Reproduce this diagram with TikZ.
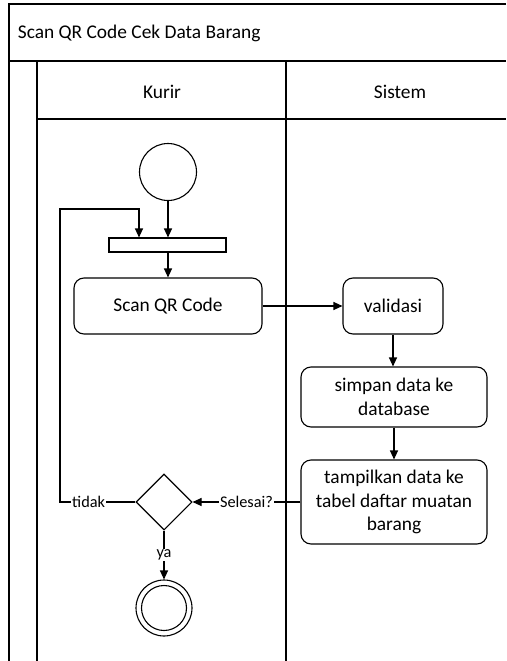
\documentclass[tikz,border=0pt]{standalone}
\usepackage{fontspec}
\setmainfont{Carlito}
\usetikzlibrary{arrows.meta,shapes.geometric}

\begin{document}
\begin{tikzpicture}[x=1pt,y=-1pt,line width=1.1pt,>={Triangle[length=9pt,width=8pt]}]
          \tikzstyle{act}=[draw,rounded corners=10pt,align=center,inner sep=2pt,font=\fontsize{19.4}{23.5}\selectfont]
          \tikzstyle{txt}=[font=\fontsize{19.4}{23.5}\selectfont]
          \tikzstyle{lbl}=[fill=white,inner sep=1pt,font=\fontsize{16.3}{19}\selectfont]
          \useasboundingbox (0,0) rectangle (506,661);
          % lanes
          \draw (506,4) -- (9,4) -- (9,661);
          \draw (9,61) -- (506,61);
          \draw (37,61) -- (37,661);
          \draw (286,61) -- (286,661);
          \draw (37,119) -- (506,119);
          \node[txt,anchor=west] (judul) at (14,33) {Scan QR Code Cek Data Barang};
          \node[txt] (kurir) at (162,92) {Kurir};
          \node[txt] (sistem) at (400,92) {Sistem};
          % nodes
          \node[draw,circle,minimum size=57pt,inner sep=0pt] (mulai) at (168,172) {};
          \node[draw,minimum width=117pt,minimum height=14pt,inner sep=0pt] (fork) at (167.5,245) {};
          \node[act,minimum width=188pt,minimum height=56pt] (scan) at (168,306) {Scan QR Code};
          \node[act,minimum width=100pt,minimum height=56pt] (validasi) at (393,306) {validasi};
          \node[act,minimum width=186pt,minimum height=60pt] (simpan) at (394,397) {simpan data ke\\database};
          \node[act,minimum width=186pt,minimum height=84pt] (tampil) at (394,502) {tampilkan data ke\\tabel daftar muatan\\barang};
          \node[draw,diamond,minimum width=56pt,minimum height=56pt,inner sep=0pt] (cek) at (164,502) {};
          \node[draw,circle,minimum size=56pt,inner sep=0pt] (akhir) at (164,608) {};
          \draw (akhir) circle[radius=22.5pt];
          \coordinate (balik) at (60,209);
          % edges
          \draw[->] (mulai.south) -- (mulai.south |- fork.north);
          \draw[->] (fork.south -| scan.north) -- (scan.north);
          \draw[->] (scan.east) -- (validasi.west);
          \draw[->] (validasi.south) -- (validasi.south |- simpan.north);
          \draw[->] (simpan.south) -- (tampil.north);
          \draw[->] (tampil.west) -- node[lbl] {Selesai?} (cek.east);
          \draw[->] (cek.west) -- node[lbl,pos=0.62] {tidak} (cek.west -| balik) -- (balik) -| ([xshift=-28.5pt]fork.north);
          \draw[->] (cek.south) -- node[lbl] {ya} (akhir.north);
      \end{tikzpicture}
\end{document}
